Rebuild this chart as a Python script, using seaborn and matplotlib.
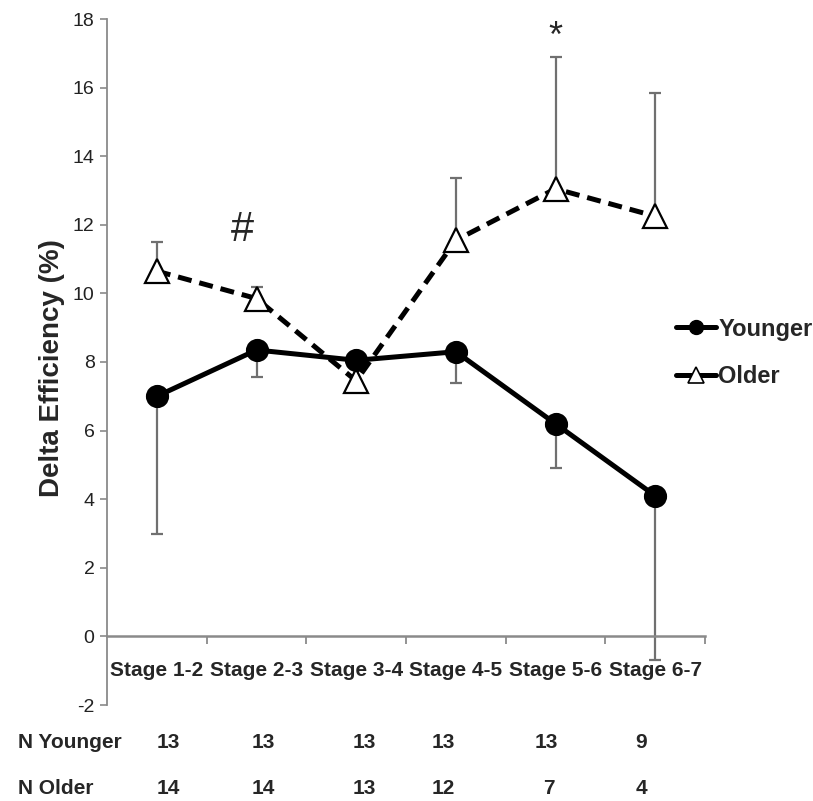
import numpy as np
import pandas as pd
import matplotlib
matplotlib.use("Agg")
import matplotlib.pyplot as plt
import seaborn as sns
from matplotlib.lines import Line2D

# ---- data ----
stages = ["Stage 1-2", "Stage 2-3", "Stage 3-4", "Stage 4-5", "Stage 5-6", "Stage 6-7"]
younger = [7.0, 8.35, 8.05, 8.3, 6.2, 4.1]
older = [10.65, 9.85, 7.45, 11.55, 13.05, 12.25]
younger_err_low = [4.0, 0.8, 0.0, 0.9, 1.3, 4.8]
older_err_high = [0.85, 0.35, 0.0, 1.8, 3.85, 3.6]
n_younger = ["13", "13", "13", "13", "13", "9"]
n_older = ["14", "14", "13", "12", "7", "4"]
yticks = list(range(-2, 19, 2))

sns.set_theme(style="white")
plt.rcParams["font.family"] = ["Liberation Sans", "DejaVu Sans"]

df = pd.DataFrame({
    "stage": stages * 2,
    "value": younger + older,
    "group": ["Younger"] * 6 + ["Older"] * 6,
})

fig = plt.figure(figsize=(8.13, 8.01), dpi=100)
ax = fig.add_axes([107 / 813, 1 - 705 / 801, (705 - 107) / 813, (705 - 19) / 801])

grey = "#8a8a8a"
x = np.arange(len(stages))

# one-sided error bars, drawn beneath the lines
ax.errorbar(x, younger, yerr=[younger_err_low, [0] * 6], fmt="none",
            ecolor="#707070", elinewidth=1.6, capsize=4.5, capthick=1.6, zorder=1)
ax.errorbar(x, older, yerr=[[0] * 6, older_err_high], fmt="none",
            ecolor="#707070", elinewidth=1.6, capsize=4.5, capthick=1.6, zorder=1)

sns.pointplot(data=df[df.group == "Younger"], x="stage", y="value", order=stages,
              color="black", errorbar=None, marker="o", markersize=14,
              linestyle="-", linewidth=3.6, ax=ax, zorder=3)
sns.pointplot(data=df[df.group == "Older"], x="stage", y="value", order=stages,
              color="black", errorbar=None, marker="^", markersize=17,
              markerfacecolor="white", markeredgewidth=1.6,
              linestyle="--", linewidth=3.6, ax=ax, zorder=2)
for ln in ax.lines:
    if ln.get_linestyle() == "--":
        ln.set_dashes((2.8, 1.6))

ax.set_xlim(-0.5, 5.5)
ax.set_ylim(-2, 18)
ax.set_yticks(yticks)
ax.set_yticklabels([str(t) for t in yticks], fontsize=14, color="#222222")
ax.set_xlabel("")
ax.set_ylabel("")

# axis styling: y spine on the left, x axis running through zero
for s in ["top", "right"]:
    ax.spines[s].set_visible(False)
ax.spines["left"].set_color(grey)
ax.spines["left"].set_linewidth(1.3)
ax.spines["bottom"].set_position(("data", 0))
ax.spines["bottom"].set_color(grey)
ax.spines["bottom"].set_linewidth(1.8)
ax.tick_params(axis="y", direction="out", length=5, width=1.2, color=grey, pad=4, left=True)
ax.set_xticks(x)
ax.set_xticklabels(stages, fontsize=15, fontweight="bold")
ax.tick_params(axis="x", which="major", length=0, pad=18)
ax.set_xticks(np.arange(0.5, 6.0, 1.0), minor=True)
ax.tick_params(axis="x", which="minor", direction="out", length=6, width=1.3,
               color=grey, bottom=True)

# significance marks
ax.text(0.86, 11.85, "#", ha="center", va="center", fontsize=30)
ax.text(4.0, 17.45, "*", ha="center", va="center", fontsize=26)

# y label
fig.text(52 / 813, 1 - 368 / 801, "Delta Efficiency (%)", rotation=90, ha="center",
         va="center", fontsize=20, fontweight="bold")

# legend
handles = [
    Line2D([], [], color="black", lw=3.6, marker="o", markersize=10),
    Line2D([], [], color="black", lw=3.6, linestyle="-", marker="^", markersize=11,
           markerfacecolor="white", markeredgewidth=1.2),
]
fig.legend(handles, ["Younger", "Older"], loc="center left",
           bbox_to_anchor=(664 / 813, 1 - 353 / 801), frameon=False,
           prop={"weight": "bold", "size": 17},
           handlelength=1.7, handletextpad=0.1, labelspacing=1.05, borderpad=0)

# sample sizes below the axis
ny_x = [168, 263, 364, 443, 546, 641]
no_x = [168, 263, 364, 443, 549, 641]
fig.text(18 / 813, 1 - 742 / 801, "N Younger", ha="left", va="center", fontsize=15, fontweight="bold")
fig.text(18 / 813, 1 - 789 / 801, "N Older", ha="left", va="center", fontsize=15, fontweight="bold")
for px, t in zip(ny_x, n_younger):
    fig.text(px / 813, 1 - 742 / 801, t, ha="center", va="center", fontsize=15, fontweight="bold")
for px, t in zip(no_x, n_older):
    fig.text(px / 813, 1 - 789 / 801, t, ha="center", va="center", fontsize=15, fontweight="bold")

fig.savefig("out.png", dpi=100)
